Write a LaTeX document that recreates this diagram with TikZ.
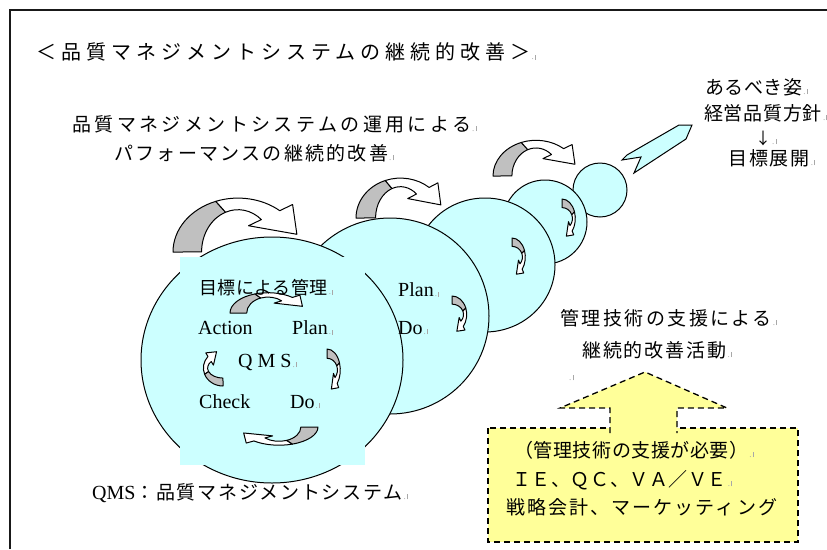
\documentclass[tikz,border=0pt]{standalone}
\usepackage{fontspec}
\setmainfont{Liberation Serif}
\newfontfamily\jp{Noto Sans CJK JP}
\definecolor{cy}{HTML}{CCFFFF}
\definecolor{yel}{HTML}{FFFF99}
\definecolor{agray}{HTML}{C0C0C0}
\definecolor{pm}{HTML}{A8A8A8}
\newcommand\pmk{{\color{pm}\fontsize{9}{9}\selectfont\kern1pt.\kern1.2pt\rule{0.6pt}{5pt}}}
\newcommand\jtx[3]{{\jp\fontsize{#1}{#1}\selectfont\addfontfeature{LetterSpace=#2}#3}}
\newcommand\lat[2]{{\fontsize{#1}{#1}\selectfont #2}}
\tikzset{
  txt/.style={inner sep=0pt, anchor=west},
  outl/.style={draw=black, line width=1pt},
  carrow/.pic={
    \begin{scope}[yscale=-1]
      \filldraw[fill=agray, outl, line join=round]
        (0,0) arc[start angle=180, end angle=110, x radius=0.5, y radius=0.7]
        -- (0.404,0.517) arc[start angle=110, end angle=180, x radius=0.28, y radius=0.55] -- cycle;
      \filldraw[fill=white, outl, line join=round]
        (0.329,0.658) arc[start angle=110, end angle=50, x radius=0.5, y radius=0.7]
        -- (0.920,0.617) -- (0.953,0.230) -- (0.581,0.341) -- (0.680,0.421)
        arc[start angle=50, end angle=110, x radius=0.28, y radius=0.55] -- cycle;
    \end{scope}
  }
}
\begin{document}
\begin{tikzpicture}[x=1pt, y=-1pt]
\useasboundingbox (0,0) rectangle (827,549);
\fill[white] (0,0) rectangle (827,549);

% circles, back to front
\filldraw[fill=cy, outl] (600,190) circle[radius=27];
\filldraw[fill=cy, outl] (545,222) circle[radius=42];
\filldraw[fill=cy, outl] (485,265) circle[x radius=70, y radius=67];
\filldraw[fill=cy, outl] (390,316) circle[x radius=99, y radius=98];
\filldraw[fill=cy, outl] (272,360) circle[x radius=131, y radius=123];
\fill[cy] (180,257) rectangle (365,465);

% cyan arrow
\filldraw[fill=cy, outl, line join=miter] (692,125) -- (679,125) -- (627,155) -- (622,160) -- (641,157) -- (634,173) -- (686,139) -- cycle;

% curved arrows
\pic[xscale=130, yscale=77] at (173,252) {carrow};
\pic[xscale=89, yscale=57] at (356,218) {carrow};
\pic[xscale=86, yscale=51] at (493,176) {carrow};
\pic[xscale=76, yscale=29] at (230,313) {carrow};
\pic[rotate=-90, xscale=42, yscale=19] at (327,349) {carrow};
\pic[rotate=180, xscale=78, yscale=26] at (318,427) {carrow};
\pic[rotate=90, xscale=36, yscale=28] at (223,386) {carrow};
\pic[rotate=-90, xscale=37, yscale=21] at (452,296) {carrow};
\pic[rotate=-90, xscale=38, yscale=19] at (512,238) {carrow};
\pic[rotate=-90, xscale=39, yscale=19] at (562,199) {carrow};

% texts
\node[txt] (title) at (36,52) {\jtx{20}{25}{＜品質マネジメントシステムの継続的改善＞}\pmk};
\node[txt] (l2) at (72,124) {\jtx{19}{18}{品質マネジメントシステムの運用による}\pmk};
\node[txt] (l3) at (114,153) {\jtx{19}{12}{パフォーマンスの継続的改善}\pmk};

\node[txt] (mbo) at (199,288) {\jtx{18}{3}{目標による管理}\pmk};
\node[txt] (act) at (198,328) {\lat{20}{Action}};
\node[txt] (plan1) at (292,328) {\lat{20}{Plan}\pmk};
\node[txt] (qms) at (238,362) {\lat{20}{\addfontfeature{LetterSpace=25}QMS}\pmk};
\node[txt] (chk) at (199,402) {\lat{20}{Check}};
\node[txt] (do1) at (290,402) {\lat{20}{Do}\pmk};
\node[txt] (plan2) at (398,290) {\lat{20}{Plan}\pmk};
\node[txt] (do2) at (398,328) {\lat{20}{Do}\pmk};

\node[txt] (r1) at (705,87) {\jtx{19}{3}{あるべき姿}\pmk};
\node[txt] (r2) at (704,113) {\jtx{19}{4}{経営品質方針}\pmk};
\node[txt] (r3) at (755,138) {\jtx{16}{0}{↓}\pmk};
\node[txt] (r4) at (728,158) {\jtx{19}{10}{目標展開}\pmk};

\node[txt] (s1) at (560,318) {\jtx{19}{13}{管理技術の支援による}\pmk};
\node[txt] (s2) at (582,350) {\jtx{19}{10}{継続的改善活動}\pmk};
\node[txt] (s3) at (568,378) {\pmk};

% yellow box and arrow
\filldraw[fill=yel, draw=black, line width=1.3pt, dash pattern=on 6pt off 4pt] (488,428) rectangle (798,542);
\fill[yel] (610,433) -- (610,408) -- (560,408) -- (645,372) -- (727,408) -- (677,408) -- (677,433) -- cycle;
\draw[line width=1.3pt, dash pattern=on 6pt off 4pt] (610,433) -- (610,408) -- (560,408) -- (645,372) -- (727,408) -- (677,408) -- (677,433);

\node[txt] (b1) at (514,450) {\jtx{19}{3}{（管理技術の支援が必要）}\pmk};
\node[txt] (b2) at (512,480) {\jtx{19}{3}{ＩＥ、ＱＣ、ＶＡ／ＶＥ}\pmk};
\node[txt] (b3) at (506,507) {\jtx{19}{11}{戦略会計、マーケッティング}};

\node[txt] (qmsdef) at (92,493) {\lat{20}{QMS}\jtx{19}{9}{：品質マネジメントシステム}\pmk};

% frame
\draw[line width=2pt, black!90] (10,549) -- (10,10) -- (827,10);
\end{tikzpicture}
\end{document}
